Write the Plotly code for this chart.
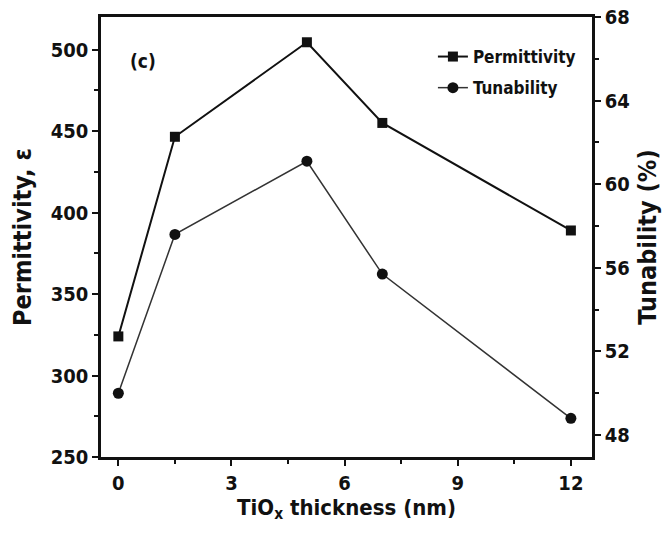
import plotly.graph_objects as go

thickness = [0, 1.5, 5, 7, 12]
permittivity = [324, 446.5, 504.5, 455, 389]
tunability = [50.0, 57.6, 61.1, 55.7, 48.8]

FONT = "DejaVu Sans Condensed, Liberation Sans Narrow, Liberation Sans, Arial"
INK = "#111111"

fig = go.Figure()
fig.add_trace(go.Scatter(
    x=thickness, y=permittivity, name="Permittivity", mode="lines+markers",
    legendgroup="p",
    line=dict(color=INK, width=2),
    marker=dict(symbol="square", size=10, color=INK),
    yaxis="y"))
fig.add_trace(go.Scatter(
    x=thickness, y=tunability, name="Tunability", mode="lines+markers",
    legendgroup="t",
    line=dict(color="#333333", width=1.5),
    marker=dict(symbol="circle", size=11, color=INK),
    yaxis="y2"))

fig.add_annotation(x=0.0855, y=0.9, xref="paper", yref="paper",
                   xanchor="center", yanchor="middle",
                   text="(c)", showarrow=False,
                   font=dict(family=FONT, size=19, color=INK, weight="bold"))

tickfont = dict(family=FONT, size=20, color=INK, weight="bold")
titlefont = dict(family=FONT, size=22, color=INK, weight="bold")
ytitlefont = dict(family=FONT, size=25, color=INK, weight="bold")
axis_common = dict(showline=True, linecolor=INK, linewidth=2.5,
                   ticks="outside", ticklen=6, tickwidth=2, tickcolor=INK,
                   showgrid=False, zeroline=False, automargin=False,
                   tickfont=tickfont)
minor_common = dict(ticks="outside", ticklen=4, tickwidth=2, tickcolor=INK)

fig.update_layout(
    width=662, height=533,
    margin=dict(l=101, r=70, t=17, b=76),
    paper_bgcolor="white", plot_bgcolor="white",
    font=dict(family=FONT, color=INK),
    xaxis=dict(range=[-0.46, 12.56], tickvals=[0, 3, 6, 9, 12], mirror=True,
               minor=dict(tickvals=[1.5, 4.5, 7.5, 10.5], **minor_common),
               title=dict(text="TiO<sub>x</sub> thickness (nm)", standoff=6, font=titlefont),
               **axis_common),
    yaxis=dict(range=[250, 520], tickvals=[250, 300, 350, 400, 450, 500],
               minor=dict(tickvals=[275, 325, 375, 425, 475], **minor_common),
               title=dict(text="Permittivity, ε", standoff=12, font=ytitlefont),
               **axis_common),
    yaxis2=dict(range=[46.95, 68], tickvals=[48, 52, 56, 60, 64, 68],
                overlaying="y", side="right",
                minor=dict(tickvals=[50, 54, 58, 62, 66], **minor_common),
                title=dict(text="Tunability (%)", standoff=12, font=ytitlefont),
                **axis_common),
    legend=dict(x=0.676, y=0.95, xanchor="left", yanchor="top",
                bgcolor="rgba(0,0,0,0)", itemwidth=30, tracegroupgap=6,
                font=dict(family=FONT, size=17, color=INK, weight="bold")),
    showlegend=True,
)

fig.write_html("out.html")
